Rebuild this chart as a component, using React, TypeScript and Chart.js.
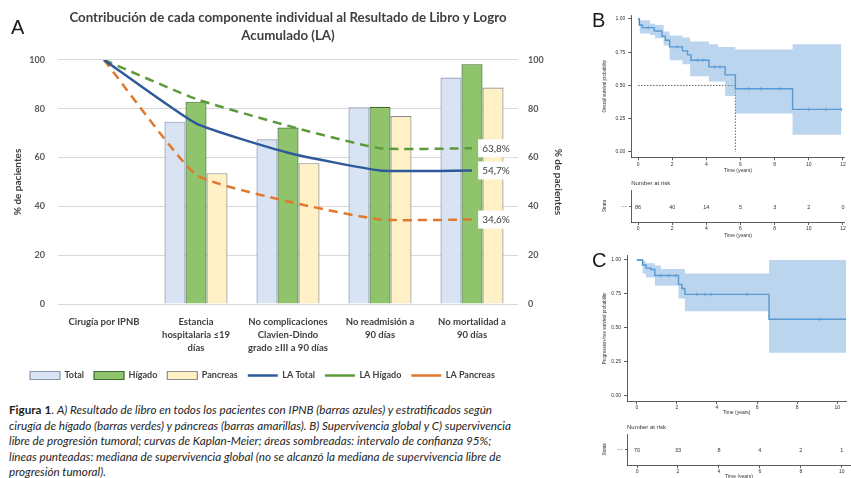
import React, { useEffect, useRef } from 'react';
import { Chart, registerables } from 'chart.js';

Chart.register(...registerables);

// ---------------- Panel A data ----------------
const categories: (string | string[])[] = [
  'Cirugía por IPNB',
  ['Estancia', 'hospitalaria ≤19', 'días'],
  ['No complicaciones', 'Clavien-Dindo', 'grado ≥III a 90 días'],
  ['No readmisión a', '90 días'],
  ['No mortalidad a', '90 días'],
];
const totalValues = [null, 74.7, 67.5, 80.6, 92.8];
const higadoValues = [null, 82.9, 72.3, 80.8, 98.2];
const pancreasValues = [null, 53.6, 57.7, 77.0, 88.7];
const laTotalValues = [100, 74, 62, 54.7, 54.7];
const laHigadoValues = [100, 84, 73, 63.8, 63.8];
const laPancreasValues = [100, 53, 42, 34.6, 34.6];
const percentTicks = [0, 20, 40, 60, 80, 100];

// ---------------- Panel B data (overall survival) ----------------
const osTimes = [0, 0.08, 0.25, 0.95, 1.4, 1.6, 1.85, 2.6, 2.9, 3.1, 4.15, 5.1, 5.7, 9.05, 11.9];
const osSurvival = [1.0, 0.955, 0.935, 0.91, 0.87, 0.84, 0.79, 0.76, 0.73, 0.69, 0.64, 0.58, 0.475, 0.32, 0.32];
const osBandTimes = [0, 0.1, 0.7, 1.0, 1.5, 1.85, 2.6, 3.05, 4.15, 4.7, 5.1, 5.7, 9.05, 11.9];
const osUpper = [1.0, 0.99, 0.965, 0.955, 0.905, 0.875, 0.86, 0.83, 0.81, 0.79, 0.79, 0.77, 0.81, 0.81];
const osLower = [1.0, 0.89, 0.88, 0.855, 0.8, 0.69, 0.66, 0.57, 0.53, 0.53, 0.42, 0.29, 0.13, 0.13];
const osCensored = [0.6, 2.3, 3.5, 3.8, 4.5, 4.8, 6.5, 7.2, 8.3, 10.0, 11.0, 11.9];
const osMedian = 5.7;
const osTimeTicks = [0, 2, 4, 6, 8, 10, 12];
const osAtRisk = [86, 40, 14, 5, 3, 2, 0];

// ---------------- Panel C data (progression-free survival) ----------------
const pfsTimes = [0, 0.29, 0.46, 0.7, 0.9, 2.08, 2.25, 2.4, 6.6, 10.45];
const pfsSurvival = [1.0, 0.963, 0.94, 0.93, 0.885, 0.82, 0.79, 0.746, 0.563, 0.563];
const pfsBandTimes = [0, 0.29, 0.46, 0.9, 1.2, 2.08, 2.4, 6.6, 10.45];
const pfsUpper = [1.0, 0.99, 0.975, 0.96, 0.933, 0.933, 0.9, 1.0, 1.0];
const pfsLower = [1.0, 0.9, 0.87, 0.81, 0.81, 0.716, 0.622, 0.316, 0.316];
const pfsCensored = [1.2, 1.6, 1.95, 3.0, 3.4, 3.7, 5.5, 9.1];
const pfsTimeTicks = [0, 2, 4, 6, 8, 10];
const pfsAtRisk = [70, 33, 8, 4, 2, 1];

const probTicks = [0, 0.25, 0.5, 0.75, 1];

// ---------------- styles ----------------
const fontA = 'Lato, "Open Sans", sans-serif';
const fontKM = '"Liberation Sans", Arial, sans-serif';
const textA = '#404040';
const kmLine = '#3a86c6';
const kmBand = 'rgba(120,172,224,0.5)';
const kmAxis = '#333333';

const endLabels = {
  id: 'endLabels',
  afterDatasetsDraw(chart: any) {
    const ctx = chart.ctx;
    chart.data.datasets.forEach((ds: any, i: number) => {
      if (ds.type !== 'line') return;
      const meta = chart.getDatasetMeta(i);
      const last = meta.data[meta.data.length - 1];
      const v = ds.data[ds.data.length - 1];
      const text = v.toFixed(1).replace('.', ',') + '%';
      ctx.save();
      ctx.font = `10px ${fontA}`;
      const w = ctx.measureText(text).width + 8;
      const h = 18;
      const cx = last.x + 24;
      ctx.fillStyle = '#ffffff';
      ctx.fillRect(cx - w / 2, last.y - h / 2, w, h);
      ctx.fillStyle = textA;
      ctx.textAlign = 'center';
      ctx.textBaseline = 'middle';
      ctx.fillText(text, cx, last.y + 0.5);
      ctx.restore();
    });
  },
};

const legendShift = {
  id: 'legendShift',
  afterLayout(chart: any) {
    const l = chart.legend;
    if (l) {
      l.left += 20;
      l.right += 20;
    }
  },
};

function makePanelA(): any {
  const tickFont = { family: fontA, size: 9, weight: 'bold' as const };
  const barCommon = { type: 'bar', order: 2, pointStyle: 'rect', borderWidth: 1.2, yAxisID: 'y' };
  const lineCommon = {
    type: 'line', order: 1, pointStyle: 'line', pointRadius: 0, borderWidth: 2.5,
    tension: 0.15, fill: false, yAxisID: 'y',
  };
  return {
    type: 'bar',
    data: {
      labels: categories,
      datasets: [
        { ...barCommon, label: 'Total', data: totalValues, backgroundColor: '#d8e4f4', borderColor: '#8797ae' },
        { ...barCommon, label: 'Hígado', data: higadoValues, backgroundColor: '#8fc46c', borderColor: '#3f6d2b' },
        { ...barCommon, label: 'Pancreas', data: pancreasValues, backgroundColor: '#fff0c6', borderColor: '#8d8d8d' },
        { ...lineCommon, label: 'LA Total', data: laTotalValues, borderColor: '#2e5a9c' },
        { ...lineCommon, label: 'LA Hígado', data: laHigadoValues, borderColor: '#5c9a3c', borderDash: [9, 6] },
        { ...lineCommon, label: 'LA Pancreas', data: laPancreasValues, borderColor: '#e0782e', borderDash: [9, 6] },
      ],
    },
    options: {
      animation: false,
      responsive: false,
      layout: { padding: 0 },
      datasets: { bar: { categoryPercentage: 0.685, barPercentage: 1 } },
      scales: {
        x: {
          grid: { display: false, drawTicks: false },
          border: { display: false },
          ticks: {
            maxRotation: 0, minRotation: 0, autoSkip: false, padding: 11.5, color: textA,
            font: { family: fontA, size: 9.5, weight: 'bold', lineHeight: 1.38 },
          },
          afterFit: (s: any) => { s.height = 57; },
        },
        y: {
          position: 'left', min: 0, max: 100,
          afterBuildTicks: (s: any) => { s.ticks = percentTicks.map((v) => ({ value: v })); },
          ticks: { padding: 13, color: '#595959', font: tickFont },
          grid: { color: '#d9d9d9', drawTicks: false, lineWidth: 1 },
          border: { display: false },
          title: {
            display: true, text: '% de pacientes', color: textA,
            font: { family: fontA, size: 10, weight: 'bold' }, padding: { top: 12, bottom: 0 },
          },
          afterFit: (s: any) => { s.width = 58; },
        },
        y1: {
          position: 'right', min: 0, max: 100,
          afterBuildTicks: (s: any) => { s.ticks = percentTicks.map((v) => ({ value: v })); },
          ticks: { padding: 10, color: '#595959', font: tickFont },
          grid: { display: false, drawTicks: false },
          border: { display: false },
          title: {
            display: true, text: '% de pacientes', color: textA,
            font: { family: fontA, size: 10, weight: 'bold' }, padding: { top: 12, bottom: 0 },
          },
          afterFit: (s: any) => { s.width = 58; },
        },
      },
      plugins: {
        title: {
          display: true,
          text: ['Contribución de cada componente individual al Resultado de Libro y Logro', 'Acumulado (LA)'],
          color: textA,
          font: { family: fontA, size: 13.3, weight: 'bold', lineHeight: 1.35 },
          padding: { top: 9, bottom: 15 },
        },
        legend: {
          position: 'bottom',
          align: 'start',
          labels: {
            usePointStyle: true, pointStyleWidth: 30, boxHeight: 8, padding: 10, color: textA,
            font: { family: fontA, size: 9, weight: 'bold' },
            sort: (a: any, b: any) => a.datasetIndex - b.datasetIndex,
          },
        },
        tooltip: { enabled: false },
      },
    },
    plugins: [endLabels, legendShift],
  };
}

function toPoints(xs: number[], ys: number[]) {
  return xs.map((x, i) => ({ x, y: ys[i] }));
}

function stepValue(times: number[], surv: number[], t: number) {
  let v = surv[0];
  times.forEach((ti, i) => { if (ti <= t) v = surv[i]; });
  return v;
}

function kmXScale(o: any) {
  return {
    type: 'linear', min: o.xMin, max: o.xMax,
    afterBuildTicks: (s: any) => { s.ticks = o.xTicks.map((v: number) => ({ value: v })); },
    ticks: { font: { family: fontKM, size: 5 }, color: kmAxis, padding: 1, maxRotation: 0, callback: (v: any) => String(v) },
    grid: { drawOnChartArea: false, drawTicks: true, tickLength: 3, color: kmAxis, lineWidth: 0.8 },
    border: { display: true, color: kmAxis, width: 0.8 },
    title: { display: true, text: 'Time (years)', font: { family: fontKM, size: 5 }, color: kmAxis, padding: { top: 0, bottom: o.xTitlePad } },
    afterFit: (s: any) => { s.height = o.xHeight; },
  };
}

function makeKM(o: any): any {
  const datasets: any[] = [
    { data: toPoints(o.bandTimes, o.upper), stepped: true, borderWidth: 0, borderColor: 'transparent', pointRadius: 0, backgroundColor: kmBand, fill: false },
    { data: toPoints(o.bandTimes, o.lower), stepped: true, borderWidth: 0, borderColor: 'transparent', pointRadius: 0, backgroundColor: kmBand, fill: '-1' },
    { data: toPoints(o.times, o.surv), stepped: true, borderColor: kmLine, borderWidth: 1.4, pointRadius: 0, fill: false },
    {
      data: o.censored.map((t: number) => ({ x: t, y: stepValue(o.times, o.surv, t) })),
      showLine: false, pointStyle: 'line', rotation: 90, pointRadius: 1.8, borderColor: kmLine, borderWidth: 0.8,
      backgroundColor: kmLine,
    },
  ];
  if (o.median != null) {
    datasets.push({ data: [{ x: 0, y: 0.5 }, { x: o.median, y: 0.5 }], borderColor: '#555', borderWidth: 0.9, borderDash: [1.5, 1.5], pointRadius: 0, fill: false });
    datasets.push({ data: [{ x: o.median, y: 0.5 }, { x: o.median, y: 0 }], borderColor: '#555', borderWidth: 0.9, borderDash: [1.5, 1.5], pointRadius: 0, fill: false });
  }
  return {
    type: 'line',
    data: { datasets },
    options: {
      animation: false,
      responsive: false,
      layout: { padding: { top: o.padTop, right: o.padRight, left: 0, bottom: 0 } },
      scales: {
        x: kmXScale(o),
        y: {
          type: 'linear', min: -0.04, max: 1.03,
          afterBuildTicks: (s: any) => { s.ticks = probTicks.map((v) => ({ value: v })); },
          ticks: { font: { family: fontKM, size: 5 }, color: kmAxis, padding: 3, callback: (v: any) => Number(v).toFixed(2) },
          grid: { drawOnChartArea: false, drawTicks: true, tickLength: 3, color: kmAxis, lineWidth: 0.8 },
          border: { display: true, color: kmAxis, width: 0.8 },
          title: { display: true, text: o.yTitle, font: { family: fontKM, size: 4.5 }, color: kmAxis, padding: { top: 12, bottom: 0 } },
          afterFit: (s: any) => { s.width = o.yWidth; },
        },
      },
      plugins: { legend: { display: false }, title: { display: false }, tooltip: { enabled: false } },
    },
  };
}

const riskNumbers = {
  id: 'riskNumbers',
  afterDatasetsDraw(chart: any) {
    const o = chart.options.plugins.riskNumbers;
    const ctx = chart.ctx;
    const xs = chart.scales.x;
    const ys = chart.scales.y;
    ctx.save();
    ctx.font = `5.5px ${fontKM}`;
    ctx.fillStyle = kmAxis;
    ctx.textAlign = 'center';
    ctx.textBaseline = 'middle';
    o.times.forEach((t: number, i: number) => {
      ctx.fillText(String(o.counts[i]), xs.getPixelForValue(t), ys.getPixelForValue(0.5) + 1);
    });
    ctx.restore();
  },
};

function makeRisk(o: any): any {
  return {
    type: 'line',
    data: { datasets: [{ data: [] }] },
    options: {
      animation: false,
      responsive: false,
      layout: { padding: { top: 0, right: o.padRight, left: 0, bottom: 0 } },
      scales: {
        x: kmXScale(o),
        y: {
          type: 'linear', min: 0, max: 1,
          afterBuildTicks: (s: any) => { s.ticks = [{ value: 0.5 }]; },
          ticks: { font: { family: fontKM, size: 6 }, color: kmLine, padding: 2, callback: () => '—' },
          grid: { drawOnChartArea: false, drawTicks: true, tickLength: 2, color: kmAxis, lineWidth: 0.8 },
          border: { display: true, color: kmAxis, width: 0.8 },
          title: { display: true, text: 'Strata', font: { family: fontKM, size: 4.5 }, color: kmAxis, padding: { top: 12, bottom: 0 } },
          afterFit: (s: any) => { s.width = o.yWidth; },
        },
      },
      plugins: {
        legend: { display: false },
        tooltip: { enabled: false },
        title: {
          display: true, text: 'Number at risk', align: 'start', fullSize: false, color: kmAxis,
          font: { family: fontKM, size: 6, weight: 'normal', lineHeight: 1.2 }, padding: { top: o.titleTop, bottom: 3.4 },
        },
        riskNumbers: { times: o.xTicks, counts: o.counts },
      },
    },
    plugins: [riskNumbers],
  };
}

function ChartCanvas({ left, top, width, height, make }: any) {
  const ref = useRef<HTMLCanvasElement>(null);
  useEffect(() => {
    const chart = new Chart(ref.current as HTMLCanvasElement, make());
    return () => chart.destroy();
  }, []);
  return (
    <div style={{ position: 'absolute', left, top, width, height }}>
      <canvas ref={ref} width={width} height={height} style={{ width, height, display: 'block' }} />
    </div>
  );
}

const panelLetter = (left: number, top: number, size: number): any => ({
  position: 'absolute', left, top, fontFamily: fontKM, fontSize: size, lineHeight: 1, color: '#1a1a1a',
});

const captionLine: any = { whiteSpace: 'nowrap', height: 15.6 };

export default function App() {
  const bOpts = {
    times: osTimes, surv: osSurvival, bandTimes: osBandTimes, upper: osUpper, lower: osLower, median: osMedian,
    censored: osCensored, xTicks: osTimeTicks, xMin: -0.4, xMax: 12.1, yTitle: 'Overall survival probability',
    yWidth: 41.2, xHeight: 22.7, xTitlePad: 6, padTop: 15, padRight: 6.3,
  };
  const cOpts = {
    times: pfsTimes, surv: pfsSurvival, bandTimes: pfsBandTimes, upper: pfsUpper, lower: pfsLower,
    censored: pfsCensored, xTicks: pfsTimeTicks, xMin: -0.49, xMax: 10.45, yTitle: 'Progression-free survival probability',
    yWidth: 37, xHeight: 19, xTitlePad: 4, padTop: 15.9, padRight: 0,
  };
  const bRisk = { xTicks: osTimeTicks, counts: osAtRisk, xMin: -0.4, xMax: 12.1, yWidth: 41.2, xHeight: 18, xTitlePad: 1, padRight: 6.3, titleTop: 3.4 };
  const cRisk = { xTicks: pfsTimeTicks, counts: pfsAtRisk, xMin: -0.49, xMax: 10.45, yWidth: 37, xHeight: 15, xTitlePad: 0, padRight: 0, titleTop: 3.4 };
  return (
    <div style={{ position: 'fixed', left: 0, top: 0, width: 851, height: 478, overflow: 'hidden', background: '#ffffff' }}>
      <ChartCanvas left={0} top={0} width={576} height={390} make={makePanelA} />
      <ChartCanvas left={590} top={0} width={261} height={180} make={() => makeKM(bOpts)} />
      <ChartCanvas left={590} top={176} width={261} height={64} make={() => makeRisk(bRisk)} />
      <ChartCanvas left={590} top={240} width={261} height={180} make={() => makeKM(cOpts)} />
      <ChartCanvas left={590} top={420} width={261} height={60} make={() => makeRisk(cRisk)} />
      <div style={panelLetter(11, 17, 20)}>A</div>
      <div style={panelLetter(592, 10, 20)}>B</div>
      <div style={panelLetter(592, 250, 20)}>C</div>
      <div style={{ position: 'absolute', left: 9, top: 402, fontFamily: fontA, fontSize: 11.7, lineHeight: '15.6px', color: '#1e1e1e' }}>
        <div style={captionLine}>
          <b>Figura 1</b>. <i>A) Resultado de libro en todos los pacientes con IPNB (barras azules) y estratificados según</i>
        </div>
        <div style={captionLine}>
          <i>cirugía de hígado (barras verdes) y páncreas (barras amarillas). B) Supervivencia global y C) supervivencia</i>
        </div>
        <div style={captionLine}>
          <i>libre de progresión tumoral; curvas de Kaplan-Meier; áreas sombreadas: intervalo de confianza 95%;</i>
        </div>
        <div style={captionLine}>
          <i>líneas punteadas: mediana de supervivencia global (no se alcanzó la mediana de supervivencia libre de</i>
        </div>
        <div style={captionLine}>
          <i>progresión tumoral).</i>
        </div>
      </div>
    </div>
  );
}
